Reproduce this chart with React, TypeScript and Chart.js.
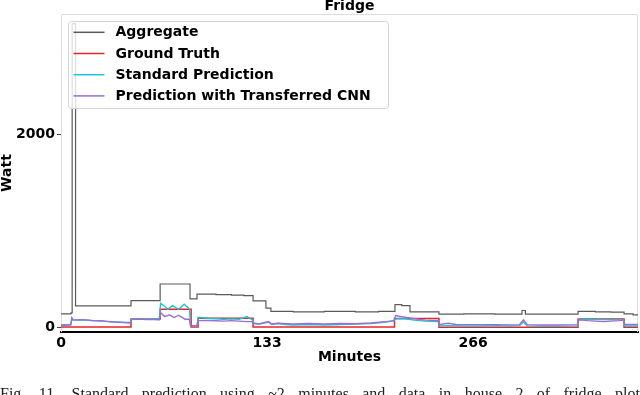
import React, { useEffect, useRef } from "react";
import { Chart, registerables } from "chart.js";
Chart.register(...registerables);

const chartTitle = "Fridge";
const seriesNames = ["Aggregate", "Ground Truth", "Standard Prediction", "Prediction with Transferred CNN"];
const seriesColors = ["#5a5a5a", "#e82424", "#1cc3d8", "#9a6fd2"];
const xTicks = [0, 133, 266];
const yTicks = [0, 2000];

const aggMin = [0, 6.5, 7.2, 9.4, 45.2, 64, 83.3, 87.8, 100, 110, 118, 124, 132.3, 135.5, 150, 170, 190, 205, 215.6, 220, 225.3, 244, 260, 280, 297.6, 299.8, 333.8, 345, 355, 363.5, 369.3, 372.5];
const aggW = [140, 150, 3150, 222, 278, 450, 295, 345, 340, 335, 330, 275, 200, 165, 160, 165, 160, 165, 235, 225, 160, 137, 140, 137, 175, 138, 165, 160, 158, 140, 130, 130];

const truthMin = [0, 45.2, 64, 84, 88.5, 124, 215.3, 244, 333.8, 363.5, 372.5];
const truthW = [3, 88, 188, 3, 95, 5, 92, 2, 88, 2, 2];

const stdMin = [0, 3, 6.3, 7, 10, 15, 20, 25, 30, 35, 40, 44.8, 45.5, 50, 55, 60, 63.5, 64.3, 66.5, 69, 72, 76, 79.5, 83, 83.6, 87.8, 88.6, 95, 100, 105, 110, 115, 120, 123.5, 124.5, 128, 134, 136, 140, 145, 150, 160, 170, 180, 190, 200, 210, 215, 216, 222, 228, 235, 243.5, 244.5, 250, 260, 270, 280, 290, 296, 298.5, 301, 310, 320, 333.5, 334.3, 340, 350, 363, 364, 372.5];
const stdW = [20, 25, 25, 80, 75, 78, 70, 68, 60, 55, 50, 50, 85, 88, 85, 90, 85, 250, 225, 188, 226, 188, 240, 188, 20, 15, 105, 95, 90, 85, 88, 85, 112, 78, 45, 35, 55, 30, 40, 30, 25, 30, 25, 30, 35, 40, 55, 70, 88, 90, 75, 65, 60, 15, 18, 15, 15, 18, 15, 18, 55, 15, 12, 12, 15, 85, 85, 80, 80, 15, 15];

const cnnMin = [0, 6.3, 7, 8, 12, 16, 20, 25, 30, 35, 40, 44.8, 45.5, 50, 55, 60, 63.5, 64.3, 67, 70, 73, 76, 80, 82.8, 83.6, 87.8, 88.6, 95, 100, 105, 110, 115, 120, 123.5, 124.5, 128, 134, 136, 140, 150, 160, 170, 180, 190, 200, 210, 215, 216, 220, 226, 235, 243.5, 244.5, 250, 255, 265, 280, 290, 296, 298.5, 301, 310, 320, 333.5, 334.3, 340, 350, 360, 363, 364, 372.5];
const cnnW = [25, 30, 100, 75, 80, 78, 72, 68, 62, 55, 52, 45, 80, 85, 80, 82, 78, 153, 112, 130, 102, 126, 85, 85, 20, 15, 70, 72, 68, 65, 70, 65, 60, 60, 40, 35, 60, 35, 42, 35, 40, 35, 40, 38, 45, 60, 70, 122, 110, 95, 75, 70, 30, 43, 30, 28, 28, 26, 28, 78, 28, 25, 25, 28, 78, 70, 60, 70, 75, 30, 30];

const caption = "Fig. 11.   Standard prediction using ~2 minutes and data in house 2 of fridge plot";

const FONT = "'DejaVu Sans', sans-serif";

function pts(xs: number[], ys: number[]) {
  return xs.map((x, i) => ({ x, y: ys[i] }));
}

const framePlugin = {
  id: "frame",
  beforeDatasetsDraw(chart: any) {
    const { ctx, chartArea: a } = chart;
    ctx.save();
    ctx.strokeStyle = "#dcdcdc";
    ctx.lineWidth = 1;
    ctx.beginPath();
    ctx.moveTo(a.left + 0.5, a.bottom);
    ctx.lineTo(a.left + 0.5, a.top + 0.5);
    ctx.lineTo(a.right - 0.5, a.top + 0.5);
    ctx.lineTo(a.right - 0.5, a.bottom);
    ctx.stroke();
    ctx.restore();
  },
};

const legendPlugin = {
  id: "boxLegend",
  afterDatasetsDraw(chart: any) {
    const { ctx, chartArea: a } = chart;
    const x0 = a.left + 7.5, y0 = a.top + 7.5, w = 320, h = 87;
    ctx.save();
    ctx.beginPath();
    (ctx as any).roundRect(x0, y0, w, h, 3);
    ctx.fillStyle = "rgba(255,255,255,0.8)";
    ctx.fill();
    ctx.strokeStyle = "#d4d4d4";
    ctx.lineWidth = 1;
    ctx.stroke();
    ctx.font = `bold 14px ${FONT}`;
    ctx.textBaseline = "middle";
    ctx.textAlign = "left";
    seriesNames.forEach((name, i) => {
      const y = y0 + 10.8 + i * 21.2;
      ctx.strokeStyle = seriesColors[i];
      ctx.lineWidth = 1.5;
      ctx.beginPath();
      ctx.moveTo(x0 + 5, y);
      ctx.lineTo(x0 + 36, y);
      ctx.stroke();
      ctx.fillStyle = "#000";
      ctx.fillText(name, x0 + 47, y + 0.5);
    });
    ctx.restore();
  },
};

const titlePlugin = {
  id: "topTitle",
  afterDraw(chart: any) {
    const { ctx, chartArea: a } = chart;
    ctx.save();
    ctx.font = `bold 14px ${FONT}`;
    ctx.fillStyle = "#000";
    ctx.textAlign = "center";
    ctx.textBaseline = "alphabetic";
    ctx.fillText(chartTitle, (a.left + a.right) / 2, 9.5);
    ctx.restore();
  },
};

export default function App() {
  const ref = useRef<HTMLCanvasElement | null>(null);
  useEffect(() => {
    if (!ref.current) return;
    const tickFont = { family: FONT, weight: "bold" as const, size: 14, lineHeight: 1 };
    const chart = new Chart(ref.current, {
      type: "line",
      data: {
        datasets: [
          { label: seriesNames[0], data: pts(aggMin, aggW), borderColor: seriesColors[0], borderWidth: 1.2, stepped: true, order: 4 },
          { label: seriesNames[1], data: pts(truthMin, truthW), borderColor: seriesColors[1], borderWidth: 1.5, stepped: true, order: 3 },
          { label: seriesNames[2], data: pts(stdMin, stdW), borderColor: seriesColors[2], borderWidth: 1.4, order: 2 },
          { label: seriesNames[3], data: pts(cnnMin, cnnW), borderColor: seriesColors[3], borderWidth: 1.4, order: 1 },
        ] as any,
      },
      options: {
        animation: false,
        responsive: false,
        devicePixelRatio: 1,
        layout: { padding: { top: 14, right: 2, left: 0, bottom: 0 } },
        elements: { point: { radius: 0 }, line: { tension: 0 } },
        plugins: { legend: { display: false }, tooltip: { enabled: false }, title: { display: false } },
        scales: {
          x: {
            type: "linear",
            min: 0,
            max: 372.5,
            afterBuildTicks: (s: any) => { s.ticks = xTicks.map((v) => ({ value: v })); },
            afterFit: (s: any) => { s.height = 63; },
            grid: { display: false, drawTicks: false },
            border: { display: true, color: "#000", width: 2 },
            ticks: { font: tickFont, color: "#000", padding: 4, maxRotation: 0, autoSkip: false, callback: (v: any) => String(v) },
            title: { display: true, text: "Minutes", color: "#000", font: tickFont, padding: { top: 0, bottom: 31 } },
          },
          y: {
            type: "linear",
            min: -48,
            max: 3250,
            afterBuildTicks: (s: any) => { s.ticks = yTicks.map((v) => ({ value: v })); },
            afterFit: (s: any) => { s.width = 61; },
            grid: { display: true, drawOnChartArea: false, drawTicks: true, tickLength: 4, tickColor: "#444", tickWidth: 1 },
            border: { display: false },
            ticks: { font: tickFont, color: "#000", padding: 2, callback: (v: any) => String(v) },
            title: { display: true, text: "Watt", color: "#000", font: tickFont, padding: { top: 0, bottom: 0 } },
          },
        },
      } as any,
      plugins: [framePlugin, legendPlugin, titlePlugin],
    });
    return () => chart.destroy();
  }, []);
  return (
    <div style={{ position: "fixed", left: 0, top: 0, width: 640, height: 395, overflow: "hidden", background: "#fff" }}>
      <canvas ref={ref} width={640} height={395} style={{ position: "absolute", left: 0, top: 0, width: 640, height: 395 }} />
      <div
        style={{
          position: "absolute",
          left: 0,
          top: 386,
          width: 640,
          fontFamily: "'Liberation Serif', serif",
          fontSize: 16,
          lineHeight: "16px",
          textAlign: "justify",
          textAlignLast: "justify" as any,
          color: "#222",
          whiteSpace: "nowrap",
          wordSpacing: 6,
        }}
      >
        {caption}
      </div>
    </div>
  );
}
